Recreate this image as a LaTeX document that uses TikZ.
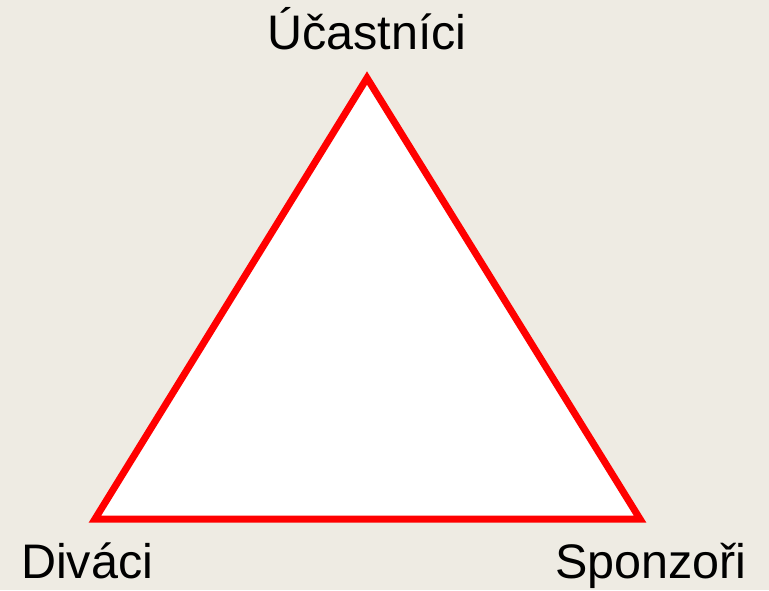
\documentclass[tikz,border=0pt]{standalone}
\usepackage{fontspec}
\setmainfont{Liberation Sans}
\definecolor{bgbeige}{RGB}{238,235,227}
\definecolor{edgered}{RGB}{255,0,0}
\begin{document}
\begin{tikzpicture}[x=1pt,y=1pt,
  lbl/.style={font=\fontsize{48.5}{52}\selectfont, inner sep=0pt, anchor=base},
  tri/.style={draw=edgered, line width=7pt, fill=white, line join=miter}]
\fill[bgbeige] (0,0) rectangle (769,590);
\useasboundingbox (0,0) rectangle (769,590);
\coordinate (top) at (367,512);
\coordinate (bl) at (95,71);
\coordinate (br) at (640,71);
\draw[tri] (top) -- (bl) -- (br) -- cycle;
\node[lbl] (u) at (367,540) {Účastníci};
\node[lbl, anchor=base west] (d) at (21,12) {Diváci};
\node[lbl, anchor=base west] (s) at (555,12) {Sponzoři};
\end{tikzpicture}
\end{document}
